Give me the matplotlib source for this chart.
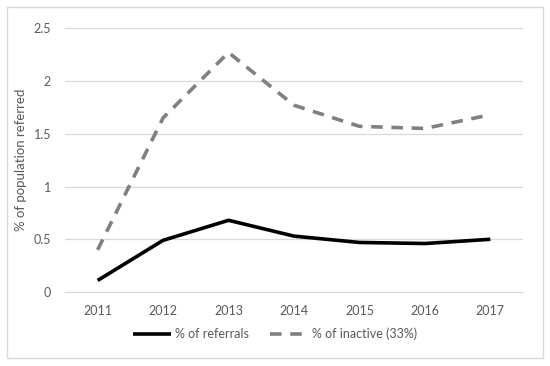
import matplotlib
matplotlib.use("Agg")
import matplotlib.pyplot as plt
from matplotlib.patches import Rectangle

years = ["2011", "2012", "2013", "2014", "2015", "2016", "2017"]
referrals = [0.11, 0.49, 0.68, 0.53, 0.47, 0.46, 0.50]
inactive = [0.40, 1.65, 2.27, 1.77, 1.57, 1.55, 1.68]

TEXT = "#595959"
plt.rcParams["font.family"] = ["Lato", "DejaVu Sans"]

fig = plt.figure(figsize=(5.5, 3.66), dpi=100)
ax = fig.add_axes([0.118, 0.202, 0.833, 0.721])

x = range(len(years))
ax.plot(x, referrals, color="black", lw=2.6, label="% of referrals",
        solid_capstyle="butt")
ax.plot(x, inactive, color="#808080", lw=2.6, dashes=(3.2, 2.4),
        label="% of inactive (33%)")

ax.set_xlim(-0.5, len(years) - 0.5)
ax.set_ylim(0, 2.5)
ax.set_yticks([0, 0.5, 1, 1.5, 2, 2.5])
ax.set_yticklabels(["0", "0.5", "1", "1.5", "2", "2.5"])
ax.set_xticks(list(x))
ax.set_xticklabels(years)
ax.grid(axis="y", color="#d9d9d9", lw=0.9)
ax.set_axisbelow(True)
for side in ["top", "right", "left"]:
    ax.spines[side].set_visible(False)
ax.spines["bottom"].set_color("#d9d9d9")
ax.tick_params(length=0, colors=TEXT, labelsize=9)
ax.tick_params(axis="x", pad=9)
ax.tick_params(axis="y", pad=10)
ax.set_ylabel("% of population referred", color=TEXT, fontsize=9.5, labelpad=5)

fig.legend(loc="center", bbox_to_anchor=(0.5, 0.088), ncol=2, frameon=False,
           fontsize=9, labelcolor=TEXT, handlelength=3.0, handletextpad=0.35,
           columnspacing=1.7)

fig.patches.append(Rectangle((0.013, 0.022), 0.974, 0.958, transform=fig.transFigure,
                             fill=False, ec="#d9d9d9", lw=1))

fig.savefig("out.png", dpi=100)
